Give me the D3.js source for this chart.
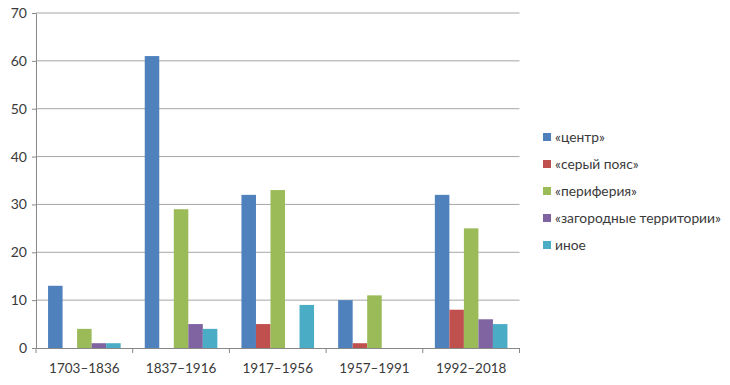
<!DOCTYPE html>
<meta charset="utf-8">
<script src="https://cdn.jsdelivr.net/npm/d3@7"></script>
<style>
body { margin: 0; background: #fff; }
text { font-family: Lato, "Open Sans", sans-serif; fill: #333; }
</style>
<body>
<script>

var periods = ["1703–1836", "1837–1916", "1917–1956", "1957–1991", "1992–2018"];
var seriesNames = ["«центр»", "«серый пояс»", "«периферия»", "«загородные территории»", "иное"];
var seriesColors = ["#4F81BD", "#C0504D", "#9BBB59", "#8064A2", "#4BACC6"];
var centre    = [13, 61, 32, 10, 32];
var greyBelt  = [0, 0, 5, 1, 8];
var periphery = [4, 29, 33, 11, 25];
var suburban  = [1, 5, 0, 0, 6];
var other     = [1, 4, 9, 0, 5];
var yTicks = [0, 10, 20, 30, 40, 50, 60, 70];

var series = [centre, greyBelt, periphery, suburban, other];

var width = 730, height = 385;
var plotLeft = 36, plotRight = 519.5, plotTop = 13, plotBottom = 348;

var svg = d3.select("body").append("svg")
    .attr("width", width)
    .attr("height", height);

var x = d3.scaleBand().domain(periods).range([plotLeft, plotRight]);
var inner = d3.scaleBand().domain(d3.range(series.length))
    .range([0, x.bandwidth()]).paddingOuter(0.83);
var y = d3.scaleLinear().domain([0, 70]).range([plotBottom, plotTop]);

// gridlines
svg.append("g")
    .selectAll("line")
    .data(yTicks.slice(1))
    .enter().append("line")
    .attr("x1", plotLeft).attr("x2", plotRight)
    .attr("y1", function(d) { return y(d); })
    .attr("y2", function(d) { return y(d); })
    .style("stroke", "#a6a6a6")
    .style("stroke-width", 1);

// bars
var groups = svg.append("g")
    .selectAll("g")
    .data(periods)
    .enter().append("g")
    .attr("transform", function(d) { return "translate(" + x(d) + ",0)"; });

groups.selectAll("rect")
    .data(function(d, i) {
      return series.map(function(s, j) { return {j: j, v: s[i]}; });
    })
    .enter().append("rect")
    .attr("x", function(d) { return inner(d.j); })
    .attr("width", inner.bandwidth())
    .attr("y", function(d) { return y(d.v); })
    .attr("height", function(d) { return plotBottom - y(d.v); })
    .style("fill", function(d) { return seriesColors[d.j]; });

// y axis
var yAxis = svg.append("g")
    .attr("transform", "translate(" + plotLeft + ",0)")
    .call(d3.axisLeft(y).tickValues(yTicks).tickSize(4).tickPadding(5).tickSizeOuter(0));
yAxis.select(".domain").style("stroke", "#888");
yAxis.selectAll(".tick line").style("stroke", "#888");
yAxis.selectAll("text").style("font-size", "14px").style("fill", "#3a3a3a");

// x axis
var xAxis = svg.append("g")
    .attr("transform", "translate(0," + plotBottom + ")")
    .call(d3.axisBottom(x).tickSize(0).tickPadding(15).tickSizeOuter(0));
xAxis.select(".domain").style("stroke", "#888");
xAxis.selectAll("text").style("font-size", "13.5px").style("fill", "#3a3a3a");

// category separators
svg.append("g")
    .selectAll("line")
    .data(periods.concat(["end"]))
    .enter().append("line")
    .attr("x1", function(d, i) { return plotLeft + i * x.step(); })
    .attr("x2", function(d, i) { return plotLeft + i * x.step(); })
    .attr("y1", plotBottom).attr("y2", plotBottom + 5)
    .style("stroke", "#888");

// legend
var legend = svg.append("g")
    .selectAll("g")
    .data(seriesNames)
    .enter().append("g")
    .attr("transform", function(d, i) { return "translate(543," + (137 + i * 27) + ")"; });

legend.append("rect")
    .attr("x", 0).attr("y", -4)
    .attr("width", 8).attr("height", 8)
    .style("fill", function(d, i) { return seriesColors[i]; });

legend.append("text")
    .attr("x", 12)
    .attr("dy", "0.35em")
    .style("font-size", "13.8px")
    .style("fill", "#3a3a3a")
    .text(function(d) { return d; });

</script>
</body>
